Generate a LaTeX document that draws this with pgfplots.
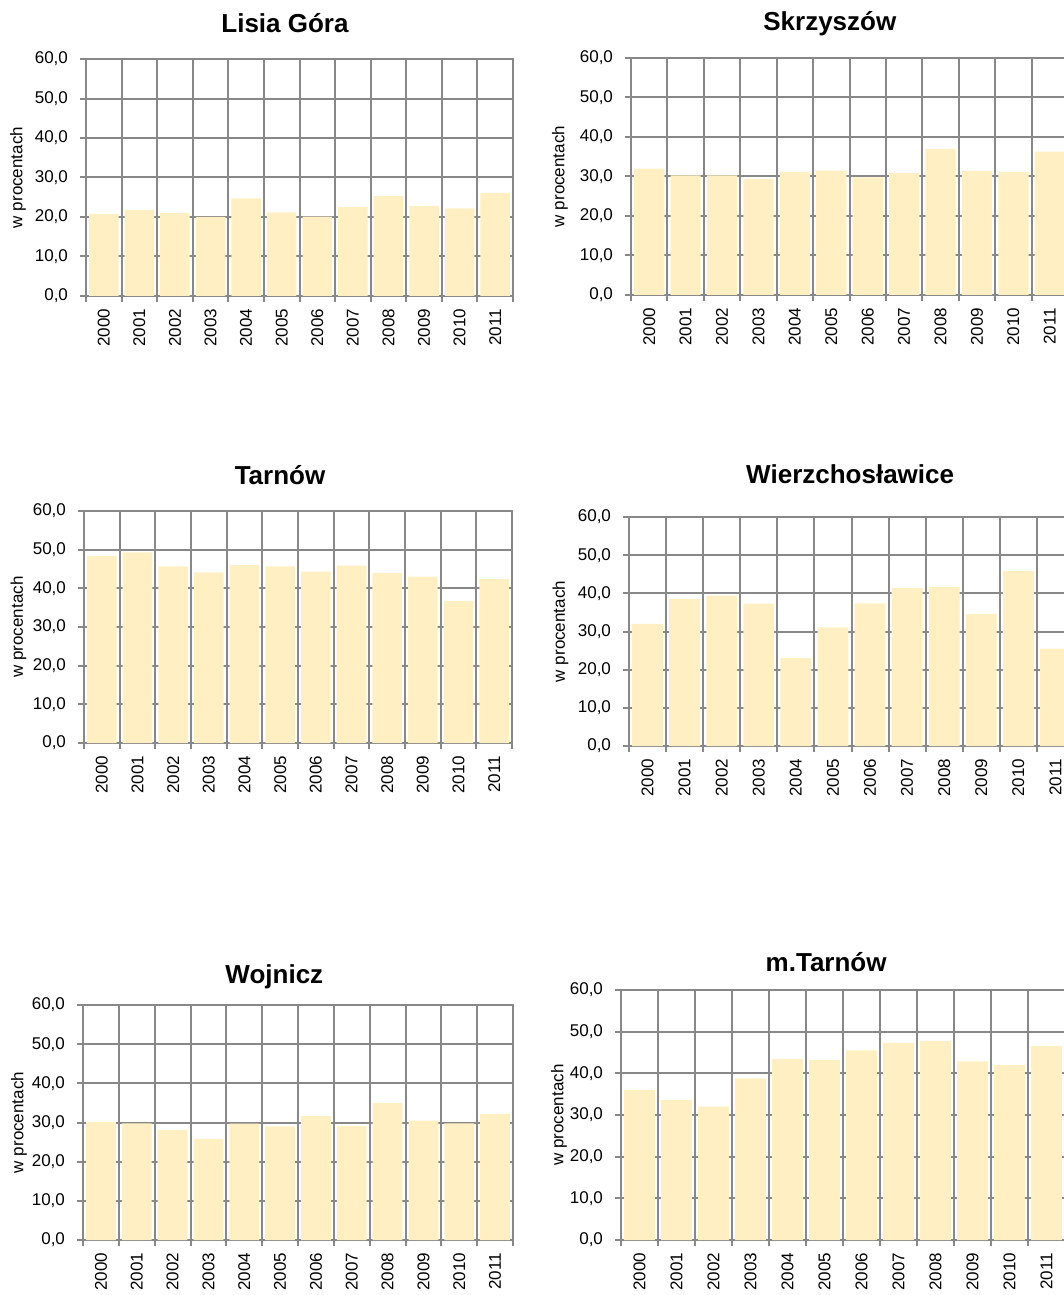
\documentclass[border=0pt]{standalone}
\usepackage{pgfplots}
\usepackage{pgfplotstable}
\pgfplotsset{compat=1.18}
\usepackage{fontspec}
\setmainfont{Liberation Sans}

\definecolor{gridc}{RGB}{136,136,136}
\definecolor{barc}{RGB}{255,239,194}

% udział w procentach, lata 2000-2011
\pgfplotstableread{
i  LG    SK    TA    WI    WO    MT
0  20.8  32.0  48.4  32.0  30.1  36.0
1  21.8  30.3  49.3  38.5  29.8  33.6
2  21.0  30.3  45.7  39.4  28.1  32.0
3  20.0  29.4  44.1  37.3  25.8  38.8
4  24.7  31.2  46.0  23.0  29.7  43.5
5  21.2  31.5  45.7  31.1  29.0  43.2
6  20.1  29.8  44.3  37.4  31.6  45.5
7  22.5  30.9  45.9  41.4  29.1  47.3
8  25.3  37.0  44.0  41.6  35.0  47.8
9  22.8  31.4  43.0  34.6  30.5  42.9
10 22.2  31.2  36.7  45.8  29.8  42.0
11 26.1  36.3  42.4  25.5  32.2  46.6
}\dane

\pgfplotsset{
  panel/.style n args={4}{
    scale only axis, anchor=north west,
    width=#1, height=#2,
    ybar, bar width=0.83, bar shift=0,
    ymin=0, ymax=60, ytick={0,10,...,60},
    xmin=-0.5, xmax=11.5,
    xtick={-0.5,0.5,...,11.5},
    x tick label as interval,
    xticklabels={2000,2001,2002,2003,2004,2005,2006,2007,2008,2009,2010,2011},
    xtick pos=bottom, ytick pos=left,
    tick align=outside, major tick length=3pt,
    grid=major,
    grid style={gridc, line width=1pt},
    axis line style={gridc, line width=1pt},
    tick style={gridc, line width=1pt},
    tick label style={font=\fontsize{8.5}{10}\selectfont, black},
    yticklabel style={xshift=-2.5pt, /pgf/number format/.cd, fixed, fixed zerofill,
      precision=1, use comma, assume math mode=true},
    xticklabel style={rotate=90, anchor=east},
    ylabel={w procentach},
    every axis y label/.style={at={(rel axis cs:0,0.5)}, xshift=-#4,
      rotate=90, anchor=center, font=\fontsize{8.5}{10}\selectfont},
    every axis title/.style={at={(axis description cs:#3,1)},
      anchor=base, yshift=0pt, font=\fontsize{13}{15}\selectfont\bfseries},
  },
  tgap/.style={every axis title/.append style={yshift=#1}},
}

\begin{document}
\begin{tikzpicture}

\begin{axis}[panel={213.5pt}{118.5pt}{0.466}{34pt}, tgap=13.5pt,
  at={(43pt,-29.5pt)}, title={Lisia Góra}]
  \addplot[fill=barc, draw=none] table[x=i, y=LG] {\dane};
\end{axis}

\begin{axis}[panel={218.5pt}{118.5pt}{0.455}{35.5pt}, tgap=13.5pt,
  at={(315.5pt,-29pt)}, title={Skrzyszów}]
  \addplot[fill=barc, draw=none] table[x=i, y=SK] {\dane};
\end{axis}

\begin{axis}[panel={214pt}{116pt}{0.458}{32.75pt}, tgap=13.5pt,
  at={(42pt,-255.5pt)}, title={Tarnów}]
  \addplot[fill=barc, draw=none] table[x=i, y=TA] {\dane};
\end{axis}

\begin{axis}[panel={222.5pt}{114.5pt}{0.497}{34.25pt}, tgap=17pt,
  at={(314.5pt,-258.5pt)}, title={Wierzchosławice}]
  \addplot[fill=barc, draw=none] table[x=i, y=WI] {\dane};
\end{axis}

\begin{axis}[panel={215pt}{117.5pt}{0.445}{32pt}, tgap=11pt,
  at={(41.5pt,-502.5pt)}, title={Wojnicz}]
  \addplot[fill=barc, draw=none] table[x=i, y=WO] {\dane};
\end{axis}

\begin{axis}[panel={222pt}{125pt}{0.462}{31pt}, tgap=9.5pt,
  at={(310.5pt,-495pt)}, title={m.Tarnów}]
  \addplot[fill=barc, draw=none] table[x=i, y=MT] {\dane};
\end{axis}

\pgfresetboundingbox
\path[use as bounding box] (0,0) rectangle (532pt,-647.5pt);
\end{tikzpicture}
\end{document}
